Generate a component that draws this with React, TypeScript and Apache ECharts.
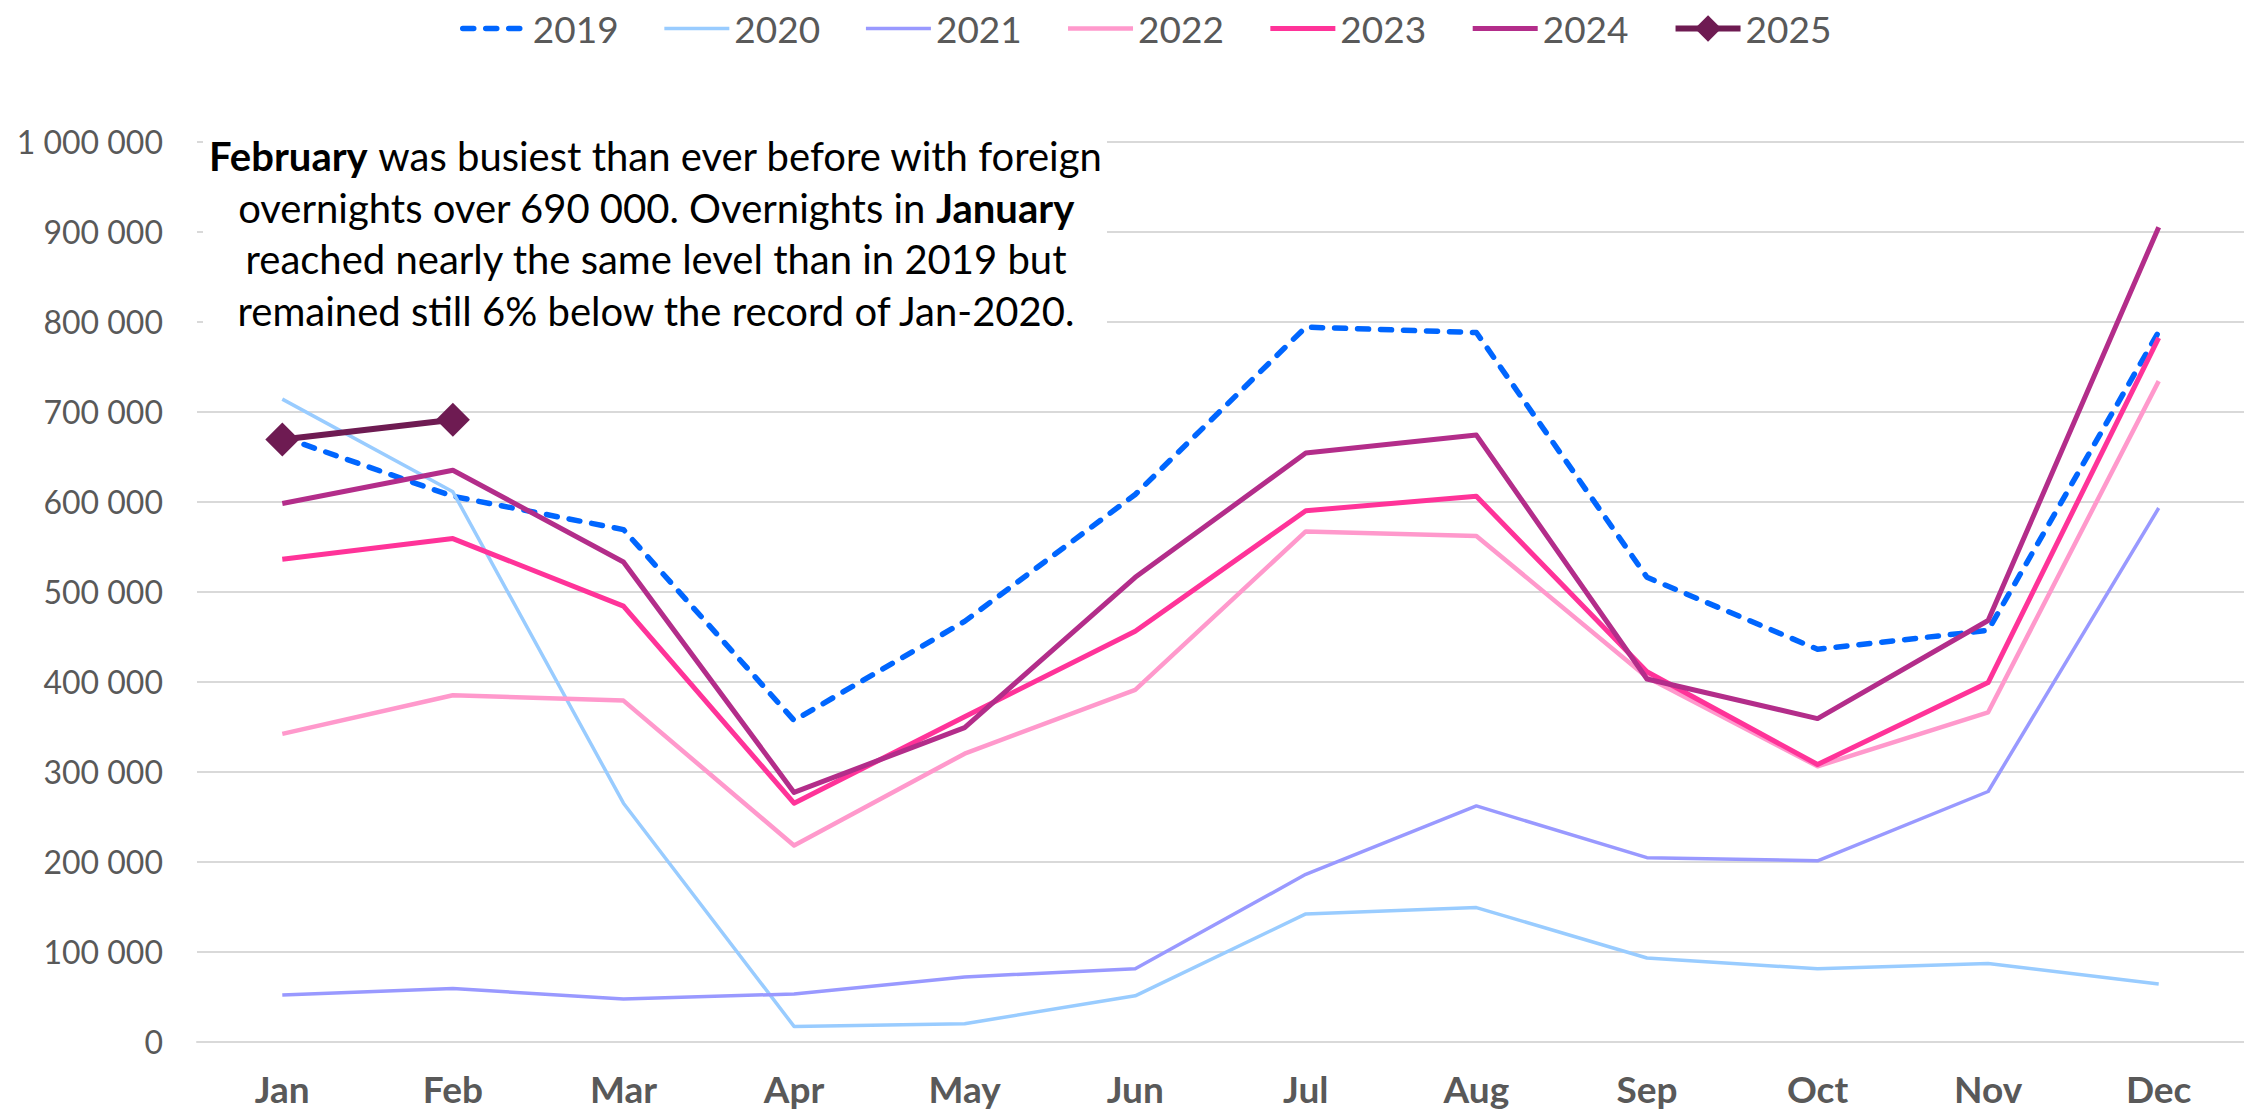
import React, { useEffect, useRef } from "react";
import * as echarts from "echarts";

const months = ["Jan", "Feb", "Mar", "Apr", "May", "Jun", "Jul", "Aug", "Sep", "Oct", "Nov", "Dec"];
const years = ["2019", "2020", "2021", "2022", "2023", "2024", "2025"];

const v2019 = [672000, 606000, 569000, 357000, 467000, 608000, 794000, 788000, 516000, 436000, 457000, 789000];
const v2020 = [714000, 611000, 265000, 17000, 20000, 51000, 142000, 149000, 93000, 81000, 87000, 64000];
const v2021 = [52000, 59000, 47500, 53000, 72000, 81000, 186000, 262000, 204500, 201000, 278000, 593000];
const v2022 = [342000, 385000, 379000, 218000, 320000, 391000, 567000, 562000, 405000, 306000, 366000, 734000];
const v2023 = [536000, 559000, 484000, 265000, 361000, 456000, 590000, 606000, 411000, 308000, 399000, 782000];
const v2024 = [598000, 635000, 533000, 277000, 349000, 516000, 654000, 674000, 403000, 359000, 468000, 905000];
const v2025 = [669000, 691000];

const seriesValues = [v2019, v2020, v2021, v2022, v2023, v2024, v2025];
const seriesColors = ["#0066FF", "#99CCFF", "#9999FF", "#FF99CC", "#FF3399", "#B32D8A", "#6E1B52"];
const seriesWidths = [5.5, 3.5, 3.5, 4.5, 5, 5, 6];

const noteLines = [
  "{b|February} was busiest than ever before with foreign",
  "overnights over 690 000. Overnights in {b|January}",
  "reached nearly the same level than in 2019 but",
  "remained still 6% below the record of Jan-2020.",
];

const FONT = "Lato, 'Open Sans', sans-serif";

function fmt(v: number): string {
  return String(v).replace(/\B(?=(\d{3})+(?!\d))/g, " ");
}

export default function App() {
  const ref = useRef<HTMLDivElement>(null);

  useEffect(() => {
    if (!ref.current) return;
    const chart = echarts.init(ref.current, null, { renderer: "svg" });

    const series: any[] = years.map((y, i) => {
      const is2025 = y === "2025";
      return {
        name: y,
        type: "line",
        data: seriesValues[i],
        symbol: is2025 ? "diamond" : "none",
        symbolSize: is2025 ? 34 : 0,
        showSymbol: is2025,
        smooth: false,
        itemStyle: { color: seriesColors[i] },
        lineStyle: {
          color: seriesColors[i],
          width: seriesWidths[i],
          type: y === "2019" ? [11, 12] : "solid",
          cap: y === "2019" ? "round" : "butt",
          join: "round",
        },
        emphasis: { disabled: true },
        z: 2 + i,
      };
    });

    const graphics: any[] = [
      {
        type: "rect",
        shape: { x: 203, y: 118, width: 904, height: 226 },
        style: { fill: "#FFFFFF" },
        z: 10,
      },
      ...noteLines.map((t, i) => ({
        type: "text",
        x: 656,
        y: 156 + i * 51.5,
        z: 11,
        style: {
          text: t,
          fill: "#000000",
          font: `40px ${FONT}`,
          fontFamily: FONT,
          fontSize: 40,
          align: "center",
          verticalAlign: "middle",
          rich: {
            b: { fontWeight: "bold", fontSize: 40, fontFamily: FONT, fill: "#000000" },
          },
        },
      })),
    ];

    chart.setOption({
      animation: false,
      backgroundColor: "#FFFFFF",
      textStyle: { fontFamily: FONT },
      legend: {
        left: 455,
        top: 5,
        itemWidth: 65,
        itemHeight: 33,
        itemGap: 44,
        selectedMode: false,
        textStyle: { color: "#595959", fontSize: 37, fontFamily: FONT },
        lineStyle: { width: "inherit", type: "inherit" },
        data: years.map((y) =>
          y === "2025" ? { name: y } : { name: y, itemStyle: { opacity: 0 } }
        ),
      },
      grid: { left: 197, top: 141.7, width: 2058, height: 900, containLabel: false },
      xAxis: {
        type: "category",
        data: months,
        boundaryGap: true,
        axisLine: { show: true, lineStyle: { color: "#D9D9D9", width: 2 } },
        axisTick: { show: false },
        axisLabel: {
          color: "#595959",
          fontSize: 37,
          fontWeight: "bold",
          fontFamily: FONT,
          margin: 28,
        },
        splitLine: { show: false },
      },
      yAxis: {
        type: "value",
        min: 0,
        max: 1000000,
        interval: 100000,
        axisLine: { show: false },
        axisTick: { show: false },
        axisLabel: {
          color: "#595959",
          fontSize: 32,
          fontFamily: FONT,
          margin: 34,
          formatter: (v: number) => fmt(v),
        },
        splitLine: { show: true, lineStyle: { color: "#D9D9D9", width: 2 } },
      },
      series,
      graphic: graphics,
    });

    return () => chart.dispose();
  }, []);

  return (
    <div
      ref={ref}
      style={{ position: "absolute", left: 0, top: 0, width: 2244, height: 1116, background: "#fff" }}
    />
  );
}
